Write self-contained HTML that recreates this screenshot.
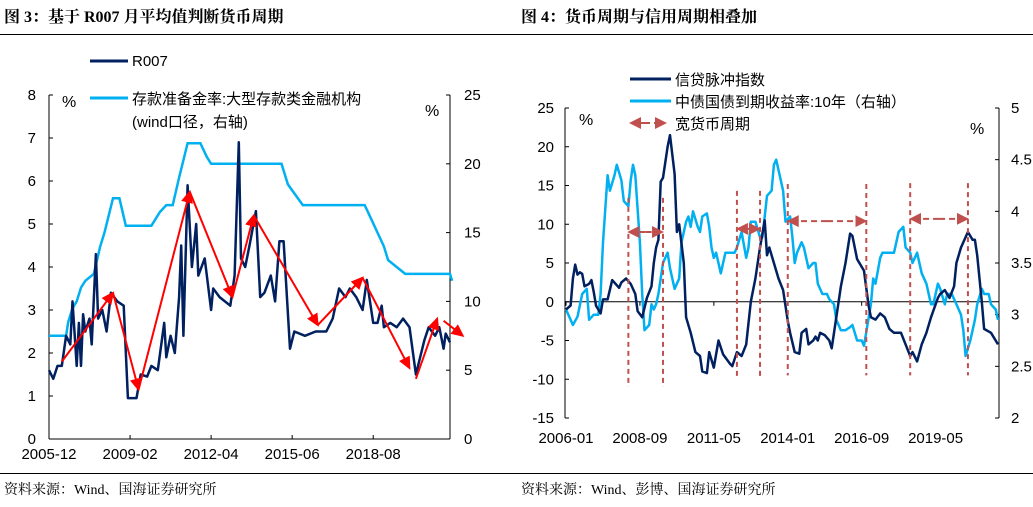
<!DOCTYPE html>
<html><head><meta charset="utf-8"><style>
html,body{margin:0;padding:0;background:#fff;}
svg{display:block;font-family:"Liberation Sans","Noto Sans CJK SC",sans-serif;}
.serif{font-family:"Liberation Serif","Noto Serif CJK SC",serif;}
</style></head><body>
<svg id="root" width="1033" height="507" viewBox="0 0 1033 507">
<defs>
<marker id="rh" markerWidth="13" markerHeight="12" refX="11" refY="6" orient="auto" markerUnits="userSpaceOnUse"><path d="M0,0 L13,6 L0,12 Z" fill="#ff0000"/></marker>
<marker id="bh" markerWidth="12" markerHeight="12" refX="10" refY="6" orient="auto" markerUnits="userSpaceOnUse"><path d="M0,0 L12,6 L0,12 Z" fill="#c0504d"/></marker>
</defs>
<text class="serif" x="4" y="22" font-size="16" font-weight="bold" fill="#000">图 3：基于 R007 月平均值判断货币周期</text>
<text class="serif" x="521" y="22" font-size="16" font-weight="bold" fill="#000">图 4：货币周期与信用周期相叠加</text>
<line x1="0" y1="34.5" x2="1033" y2="34.5" stroke="#000" stroke-width="1"/>
<line x1="0" y1="473.5" x2="1033" y2="473.5" stroke="#000" stroke-width="1"/>
<text class="serif" x="4" y="494" font-size="14" fill="#000">资料来源：Wind、国海证券研究所</text>
<text class="serif" x="521" y="494" font-size="14" fill="#000">资料来源：Wind、彭博、国海证券研究所</text>
<g id="left"></g>
<g id="right"></g>
</svg>
<script>
// ---------- LEFT CHART DATA ----------
const r007Months=[0,2,4,6,8,10,11,13,14,15,16,17,19,20,22,23,25,27,29,32,35,37,41,43,46,48,51,54,55,57,59,61,62,63,65,67,69,70,73,76,77,80,85,87,89,90,92,94,97,99,101,104,106,108,110,113,115,120,125,130,133,136,139,141,144,147,149,152,154,156,157,160,163,166,169,172,176,178,181,183,185,186,188];
const r007Values=[1.6,1.4,1.7,1.7,2.4,2.2,3.2,1.7,2.7,1.7,2.9,2.5,2.8,2.2,4.3,2.8,3.0,2.5,3.4,3.2,3.1,0.95,0.95,1.5,1.45,1.7,1.6,2.7,1.9,2.4,2.0,3.3,4.5,2.4,5.9,4.0,5.0,3.8,4.2,3.0,3.5,3.3,3.1,3.8,6.9,4.2,4.0,4.5,5.3,3.3,3.4,3.8,3.2,4.6,4.6,2.1,2.5,2.4,2.5,2.5,2.8,3.5,3.3,3.5,3.3,3.0,3.7,2.7,2.7,3.1,2.6,2.7,2.6,2.8,2.6,1.5,2.3,2.6,2.4,2.6,2.1,2.45,2.25];
const rrrMonths=[0,8,9,11,13,15,17,21,24,26,30,33,36,48,52,55,58,61,65,71,74,76,109,112,119,123,148,151,154,157,159,167,188,189];
const rrrValues=[7.5,7.5,8.5,9.5,10,11,11.5,12,14,15,17.5,17.5,15.5,15.5,16.5,17,17,19,21.5,21.5,20.5,20,20,18.5,17,17,17,16,15,14,13,12,12,11.5];
const cycleArrowFrom=[[6,1.8],[30,3.4],[42,1.15],[66,5.75],[86,3.3],[96,5.2],[126,2.65],[147,3.75],[172,1.4],[185,2.75]];
const cycleArrowTo=[[30,3.4],[42,1.15],[66,5.75],[86,3.3],[96,5.2],[126,2.65],[147,3.75],[169,1.65],[182,2.8],[194,2.4]];
const leftTicks=["0","1","2","3","4","5","6","7","8"];
const rightTicks=["0","5","10","15","20","25"];
const leftXLabels=["2005-12","2009-02","2012-04","2015-06","2018-08"];
const leftXLabelMonths=[0,38,76,114,152];

// ---------- RIGHT CHART DATA ----------
const pulseMonths=[0,2,3,4,5,6,7,8,10,11,12,13,15,16,18,20,23,24,26,28,30,31,33,35,37,38,39,40,41,42,44,45,47,48,49,51,52,54,56,58,59,61,62,64,66,68,71,72,74,76,78,80,82,84,86,87,88,92,94,96,97,99,101,102,104,105,107,108,109,110,112,114,115,117,119,121,123,124,126,129,131,132,134,136,138,140,142,145,147,149,150,152,154,156,158,161,162,164,166,168,169,171,174,176,177,178,180,181,184,187];
const pulseValues=[-1,-0.5,3,4.8,3.5,3.8,3.6,2,2.3,2.8,1.3,-0.5,-1.5,0.3,0.3,2.8,1.8,2.5,3,2.3,1,-1.2,-2,0.5,2,5,7,8,15.5,16,20,21.5,16.5,9,10,5,-2,-4,-6.5,-7,-9,-9.2,-6.5,-8.5,-5,-6.8,-8,-8.3,-6.5,-7,-5.5,0,3,7,10.5,6,7,3,1.5,-2.5,-4,-6.5,-6.7,-4,-3.5,-5.5,-5,-4.5,-5,-4,-4.3,-5,-6,-2,2,5,8.8,8.5,5.5,4,-0.5,-2,-2.3,-1.5,-2,-3.5,-4,-4,-5.5,-7,-6.5,-7.7,-5.5,-4,-2,0.5,1,1.5,0.5,2,5,7,9,8,8,6,0,-3.5,-4,-5.5];
const yieldMonths=[0,2,3,5,7,9,10,12,14,15,16,18,19,21,22,24,25,27,28,29,30,32,33,34,36,37,38,39,40,42,43,44,45,47,48,49,50,52,53,54,55,57,58,59,61,62,63,64,65,67,69,71,73,74,76,78,79,80,82,84,85,87,89,90,91,92,94,95,97,98,99,100,102,103,105,107,108,109,111,113,114,116,117,119,121,123,124,126,128,129,132,133,134,136,137,140,142,144,146,147,149,150,152,154,156,158,159,161,162,164,165,167,169,171,172,173,175,177,178,180,181,183,184,186,187];
const yieldValues=[3.05,2.95,2.9,2.98,3.2,3.25,2.95,3.0,3.0,3.2,3.7,4.35,4.2,4.35,4.45,4.3,4.1,4.05,4.3,4.45,4.35,3.7,3.2,2.85,2.9,3.1,3.05,3.1,3.2,3.5,3.55,3.6,3.45,3.25,3.3,3.35,3.7,3.9,3.95,3.85,4.0,3.85,3.8,3.95,3.98,3.85,3.65,3.55,3.6,3.4,3.6,3.6,3.6,3.65,3.8,3.55,3.65,3.9,3.9,3.75,3.75,4.15,4.2,4.45,4.5,4.4,4.2,3.9,3.95,3.75,3.5,3.6,3.7,3.65,3.45,3.5,3.5,3.3,3.2,3.2,3.15,3.1,2.95,2.85,2.85,2.88,2.9,2.75,2.75,2.7,3.1,3.35,3.3,3.55,3.6,3.6,3.6,3.8,3.85,3.65,3.6,3.5,3.6,3.4,3.3,3.1,3.1,3.3,3.25,3.1,3.2,3.2,3.1,3.0,2.85,2.6,2.75,2.95,3.1,3.25,3.2,3.2,3.1,3.05,2.95];
const easeStart=[27,74,96,149];
const easeEnd=[42,84,130,174];
const easeArrowLevel=[9,9.4,10.4,10.7];
const easeLineTop=[13.4,14.3,15.2,15.3];
const easeLineBottom=[-11,-10,-9.5,-9.5];
const pulseTicks=["-15","-10","-5","0","5","10","15","20","25"];
const yieldTicks=["2","2.5","3","3.5","4","4.5","5"];
const rightXLabels=["2006-01","2008-09","2011-05","2014-01","2016-09","2019-05"];
const rightXLabelMonths=[0,32,64,96,128,160];

const NS="http://www.w3.org/2000/svg";
function mk(parent,tag,attrs){const e=document.createElementNS(NS,tag);for(const k in attrs)e.setAttribute(k,attrs[k]);parent.appendChild(e);return e;}
function poly(xs,ys,fx,fy){return xs.map((m,i)=>fx(m).toFixed(1)+","+fy(ys[i]).toFixed(1)).join(" ");}

// ---- left chart ----
(function(){
const g=document.getElementById('left');
const x0=49,x1=450,yB=439,yT=95;
const X=m=>x0+m*2.133;
const YL=v=>yB-(yB-yT)*v/8;
const YR=v=>yB-(yB-yT)*v/25;
let e=mk(g,'line',{x1:x0,y1:yT,x2:x0,y2:yB,stroke:'#000','stroke-width':1});


e=mk(g,'line',{x1:x1,y1:yT,x2:x1,y2:yB,stroke:'#000','stroke-width':1});


e=mk(g,'line',{x1:x0,y1:yB,x2:x1,y2:yB,stroke:'#000','stroke-width':1});


leftTicks.forEach(t=>{const v=+t;
  mk(g,'line',{x1:x0,y1:YL(v),x2:x0+4,y2:YL(v),stroke:'#000'});
  e=mk(g,'text',{x:x0-13,y:YL(v)+5,'font-size':15,'text-anchor':'end'});e.textContent=t;
  
  });
rightTicks.forEach(t=>{const v=+t;
  mk(g,'line',{x1:x1-4,y1:YR(v),x2:x1,y2:YR(v),stroke:'#000'});
  e=mk(g,'text',{x:x1+14,y:YR(v)+5,'font-size':15});e.textContent=t;
  
  });
leftXLabels.forEach((t,i)=>{const x=X(leftXLabelMonths[i]);
  mk(g,'line',{x1:x,y1:yB-4,x2:x,y2:yB,stroke:'#000'});
  e=mk(g,'text',{x:x,y:yB+20,'font-size':15,'text-anchor':'middle'});e.textContent=t;
  
  });
e=mk(g,'text',{x:62,y:107,'font-size':16});e.textContent='%';


e=mk(g,'text',{x:425,y:116,'font-size':16});e.textContent='%';


e=mk(g,'polyline',{points:poly(rrrMonths,rrrValues,X,YR),fill:'none',stroke:'#00b0f0','stroke-width':2.5});


e=mk(g,'polyline',{points:poly(r007Months,r007Values,X,YL),fill:'none',stroke:'#002060','stroke-width':2.5,'stroke-linejoin':'round'});


cycleArrowFrom.forEach((p,i)=>{const q=cycleArrowTo[i];
  e=mk(g,'line',{x1:X(p[0]),y1:YL(p[1]),x2:X(q[0]),y2:YL(q[1]),stroke:'#ff0000','stroke-width':2,'marker-end':'url(#rh)'});
  
  });
// legend
e=mk(g,'line',{x1:90,y1:61,x2:128,y2:61,stroke:'#002060','stroke-width':3});


e=mk(g,'text',{x:132,y:66,'font-size':15});e.textContent='R007';


e=mk(g,'line',{x1:90,y1:98,x2:128,y2:98,stroke:'#00b0f0','stroke-width':3});


e=mk(g,'text',{x:132,y:104,'font-size':15});e.textContent='存款准备金率:大型存款类金融机构';


e=mk(g,'text',{x:132,y:127,'font-size':15});e.textContent='(wind口径，右轴)';


})();

// ---- right chart ----
(function(){
const g=document.getElementById('right');
const x0=566,x1=999,yB=418,yT=108;
const X=m=>x0+m*2.31;
const YL=v=>yB-(yB-yT)*(v+15)/40;
const YR=v=>yB-(yB-yT)*(v-2)/3;
let e=mk(g,'line',{x1:x0-1,y1:yT,x2:x0-1,y2:yB,stroke:'#000'});


e=mk(g,'line',{x1:x1,y1:yT,x2:x1,y2:yB,stroke:'#000'});


e=mk(g,'line',{x1:x0-1,y1:YL(0),x2:x1,y2:YL(0),stroke:'#000'});


pulseTicks.forEach(t=>{const v=+t;
  mk(g,'line',{x1:x0-1,y1:YL(v),x2:x0+3,y2:YL(v),stroke:'#000'});
  e=mk(g,'text',{x:x0-12,y:YL(v)+5,'font-size':15,'text-anchor':'end'});e.textContent=t;
  
  });
yieldTicks.forEach(t=>{const v=+t;
  mk(g,'line',{x1:x1-4,y1:YR(v),x2:x1,y2:YR(v),stroke:'#000'});
  e=mk(g,'text',{x:x1+12,y:YR(v)+5,'font-size':15});e.textContent=t;
  
  });
rightXLabels.forEach((t,i)=>{const x=X(rightXLabelMonths[i]);
  mk(g,'line',{x1:x,y1:YL(0),x2:x,y2:YL(0)+4,stroke:'#000'});
  e=mk(g,'text',{x:x,y:443,'font-size':15,'text-anchor':'middle'});e.textContent=t;
  
  });
e=mk(g,'text',{x:579,y:125,'font-size':16});e.textContent='%';


e=mk(g,'text',{x:970,y:134,'font-size':16});e.textContent='%';


e=mk(g,'polyline',{points:poly(yieldMonths,yieldValues,X,YR),fill:'none',stroke:'#00b0f0','stroke-width':2.5,'stroke-linejoin':'round'});


e=mk(g,'polyline',{points:poly(pulseMonths,pulseValues,X,YL),fill:'none',stroke:'#002060','stroke-width':2.5,'stroke-linejoin':'round'});


easeStart.forEach((s,i)=>{const en=easeEnd[i];
  [s,en].forEach(m=>{
    e=mk(g,'line',{x1:X(m),y1:YL(easeLineTop[i]),x2:X(m),y2:YL(easeLineBottom[i]),stroke:'#c0504d','stroke-width':2,'stroke-dasharray':'5,4'});
    
    });
  const y=YL(easeArrowLevel[i]),mid=(X(s)+X(en))/2;
  e=mk(g,'line',{x1:mid,y1:y,x2:X(s)+1,y2:y,stroke:'#c0504d','stroke-width':2,'stroke-dasharray':'6,4','marker-end':'url(#bh)'});
  
  
  e=mk(g,'line',{x1:mid,y1:y,x2:X(en)-1,y2:y,stroke:'#c0504d','stroke-width':2,'stroke-dasharray':'6,4','marker-end':'url(#bh)'});
  
  
});
// legend
e=mk(g,'line',{x1:630,y1:79,x2:671,y2:79,stroke:'#002060','stroke-width':3});


e=mk(g,'text',{x:675,y:85,'font-size':15});e.textContent='信贷脉冲指数';


e=mk(g,'line',{x1:630,y1:101,x2:671,y2:101,stroke:'#00b0f0','stroke-width':3});


e=mk(g,'text',{x:675,y:107,'font-size':15});e.textContent='中债国债到期收益率:10年（右轴）';


e=mk(g,'line',{x1:650,y1:123,x2:631,y2:123,stroke:'#c0504d','stroke-width':2,'marker-end':'url(#bh)'});


e=mk(g,'line',{x1:654,y1:123,x2:665,y2:123,stroke:'#c0504d','stroke-width':2,'marker-end':'url(#bh)'});


e=mk(g,'text',{x:675,y:129,'font-size':15});e.textContent='宽货币周期';


})();
</script>
</body></html>
